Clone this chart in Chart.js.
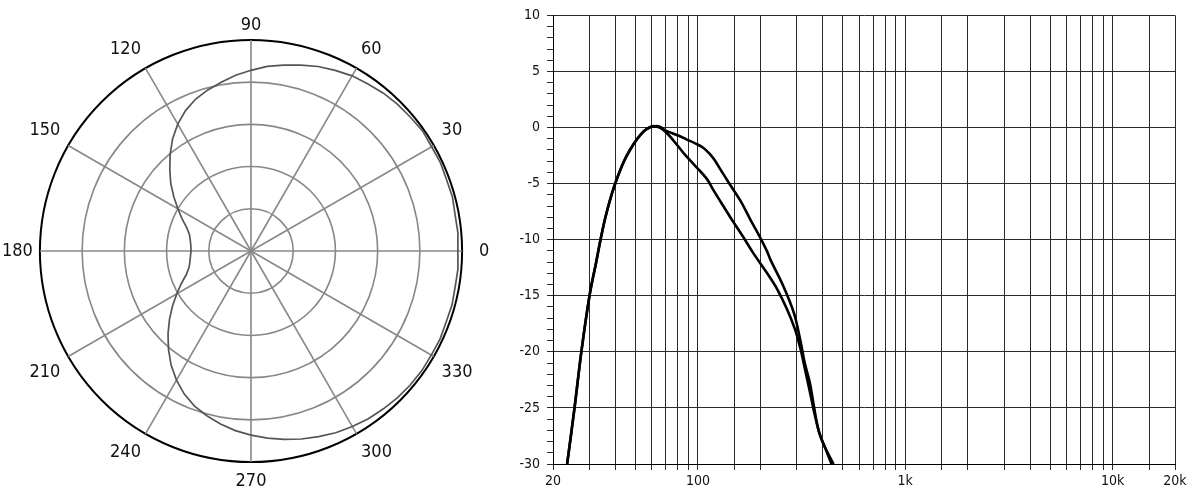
<!DOCTYPE html>
<html>
<head>
<meta charset="utf-8">
<script src="https://cdn.jsdelivr.net/npm/chart.js@4.4.1/dist/chart.umd.min.js"></script>
<style>
  html, body { margin: 0; padding: 0; background: #fff; }
  body { width: 1191px; height: 492px; position: relative; overflow: hidden; }
  #polarBox { position: absolute; left: -3px; top: 5px; width: 498px; height: 498px; }
  #freqBox { position: absolute; left: 500px; top: 0; width: 691px; height: 492px; }
</style>
</head>
<body>
<div id="polarBox"><canvas id="polarChart" width="498" height="498"></canvas></div>
<div id="freqBox"><canvas id="freqChart" width="691" height="492"></canvas></div>
<script>
// polar pattern: angle in degrees (0 = right, counter-clockwise) and radius in ring units
const polarAngles = [0, 5, 10, 15, 20, 25, 30, 35, 40, 45, 50, 55, 60, 65, 70, 75, 80, 85,
    90, 95, 100, 105, 110, 115, 120, 125, 130, 135, 140, 145, 150, 155, 160, 165, 170, 175,
    180, 185, 190, 195, 200, 205, 210, 215, 220, 225, 230, 235, 240, 245, 250, 255, 260, 265,
    270, 275, 280, 285, 290, 295, 300, 305, 310, 315, 320, 325, 330, 335, 340, 345, 350, 355];
const polarLevel = [4.90, 4.92, 4.91, 4.94, 4.93, 4.95, 4.94, 4.96, 4.93, 4.91, 4.88, 4.83, 4.79, 4.72, 4.65, 4.56, 4.47, 4.39,
    4.28, 4.18, 4.06, 3.95, 3.83, 3.67, 3.47, 3.24, 2.98, 2.72, 2.48, 2.23, 2.00, 1.80, 1.62, 1.51, 1.46, 1.43,
    1.42, 1.44, 1.47, 1.52, 1.63, 1.82, 2.03, 2.27, 2.52, 2.78, 3.04, 3.30, 3.53, 3.74, 3.91, 4.04, 4.16, 4.27,
    4.36, 4.45, 4.53, 4.61, 4.68, 4.75, 4.80, 4.85, 4.88, 4.91, 4.93, 4.94, 4.93, 4.94, 4.92, 4.93, 4.91, 4.92];
const polarRings = [0, 1, 2, 3, 4, 5];
// gap between ring and label for the labelled angles
const labelGap = { 90: 4, 0: 17, 270: 8, 180: 7 };

// frequency response, two curves (Hz, dB)
const freqA = [23.4, 25.4, 27.4, 30.0, 32.3, 33.9, 35.8, 38.3, 40.8, 44.0, 47.0, 51.0, 55.0, 59.0, 62.0,
    67.2, 75.0, 85.5, 98, 110.6, 119, 132.6, 148, 166, 185, 215, 241, 269, 294, 312, 328, 347, 367, 389, 418, 441];
const dbA = [-30, -25, -20, -15, -12, -10, -8, -6, -4.5, -3.0, -2.0, -1.0, -0.3, 0.05, 0.12,
    -0.12, -1.0, -2.3, -3.5, -4.6, -5.6, -7.0, -8.4, -9.8, -11.2, -12.95, -14.4, -16.2, -18.0, -19.7, -21.5, -23.6, -25.7, -27.5, -28.9, -30];
const freqB = [23.4, 25.4, 27.4, 30.0, 32.3, 33.9, 35.8, 38.3, 40.8, 44.0, 47.0, 51.0, 55.0, 59.0, 62.0,
    65.5, 69.9, 80.4, 88, 98, 106, 114, 121, 127, 143, 160, 179, 193, 215, 224, 259, 291, 312, 328, 347, 363, 382, 410, 451];
const dbB = [-30, -25, -20, -15, -12, -10, -8, -6, -4.5, -3.0, -2.0, -1.0, -0.3, 0.05, 0.12,
    0.08, -0.27, -0.71, -1.05, -1.45, -1.8, -2.35, -2.95, -3.6, -5.1, -6.5, -8.2, -9.3, -11.0, -11.8, -14.2, -16.6, -19.0, -21.05, -22.8, -24.9, -27.0, -28.5, -30];

const xLabelValues = [20, 100, 1000, 10000, 20000];
const xLabelTexts = ['20', '100', '1k', '10k', '20k'];
const yMin = -30;
const yMax = 10;

const narrowFont = "'DejaVu Sans Condensed', 'DejaVu Sans', sans-serif";

document.addEventListener('DOMContentLoaded', () => {
    // 1. Polar pattern (radar starts at the top and runs clockwise)
    const radarAngles = polarAngles.map((a, i) => (90 - 5 * i + 360) % 360);
    const radarValues = radarAngles.map(a => polarLevel[polarAngles.indexOf(a)]);

    new Chart(document.getElementById('polarChart'), {
        type: 'radar',
        data: {
            labels: radarAngles.map(String),
            datasets: [{
                data: radarValues,
                borderColor: '#555555',
                borderWidth: 1.7,
                fill: false,
                pointRadius: 0,
                tension: 0
            }]
        },
        options: {
            responsive: false,
            animation: false,
            devicePixelRatio: 1,
            layout: { padding: 0 },
            plugins: { legend: { display: false }, tooltip: { enabled: false } },
            scales: {
                r: {
                    min: polarRings[0],
                    max: polarRings[polarRings.length - 1],
                    startAngle: 0,
                    ticks: { display: false, stepSize: 1 },
                    grid: {
                        circular: true,
                        color: ctx => ctx.index === polarRings.length - 1 ? '#000000' : '#888888',
                        lineWidth: ctx => ctx.index === polarRings.length - 1 ? 2 : 1.6
                    },
                    angleLines: {
                        color: '#888888',
                        lineWidth: ctx => (radarAngles[ctx.index] % 30 === 0 ? 1.6 : 0)
                    },
                    pointLabels: {
                        color: '#111111',
                        padding: ctx => {
                            const a = radarAngles[ctx.index];
                            if (a % 30 !== 0) return 0;
                            return labelGap[a] !== undefined ? labelGap[a] : 9;
                        },
                        font: { family: narrowFont, size: 18 },
                        callback: (label) => (Number(label) % 30 === 0 ? label : '')
                    }
                }
            }
        }
    });

    // 2. Frequency response
    new Chart(document.getElementById('freqChart'), {
        type: 'line',
        data: {
            datasets: [
                {
                    data: freqA.map((f, i) => ({ x: f, y: dbA[i] })),
                    borderColor: '#000000',
                    borderWidth: 2.6,
                    pointRadius: 0,
                    fill: false,
                    tension: 0.35
                },
                {
                    data: freqB.map((f, i) => ({ x: f, y: dbB[i] })),
                    borderColor: '#000000',
                    borderWidth: 2.6,
                    pointRadius: 0,
                    fill: false,
                    tension: 0.35
                }
            ]
        },
        options: {
            responsive: false,
            animation: false,
            devicePixelRatio: 1,
            layout: { padding: { left: 0, right: 16, top: 15, bottom: 0 } },
            plugins: { legend: { display: false }, tooltip: { enabled: false } },
            scales: {
                x: {
                    type: 'logarithmic',
                    min: 20,
                    max: 20000,
                    afterFit: (scale) => { scale.height = 28; },
                    border: { color: '#000000', width: 1 },
                    grid: { color: '#2a2a2a', lineWidth: 1, tickLength: 6, tickColor: '#2a2a2a' },
                    ticks: {
                        autoSkip: false,
                        maxRotation: 0,
                        padding: 3,
                        color: '#111111',
                        font: { family: narrowFont, size: 14 },
                        callback: (value) => {
                            const k = xLabelValues.indexOf(value);
                            return k >= 0 ? xLabelTexts[k] : '';
                        }
                    }
                },
                y: {
                    min: yMin,
                    max: yMax,
                    afterFit: (scale) => { scale.width = 53; },
                    border: { color: '#000000', width: 1 },
                    grid: {
                        color: ctx => (ctx.tick && ctx.tick.value % 5 === 0 ? '#2a2a2a' : 'rgba(0,0,0,0)'),
                        lineWidth: 1,
                        tickLength: 6,
                        tickColor: '#2a2a2a'
                    },
                    ticks: {
                        stepSize: 1,
                        autoSkip: false,
                        padding: 7,
                        color: '#111111',
                        font: { family: narrowFont, size: 14 },
                        callback: (value) => (value % 5 === 0 ? String(value) : '')
                    }
                }
            }
        }
    });
});
</script>
</body>
</html>
